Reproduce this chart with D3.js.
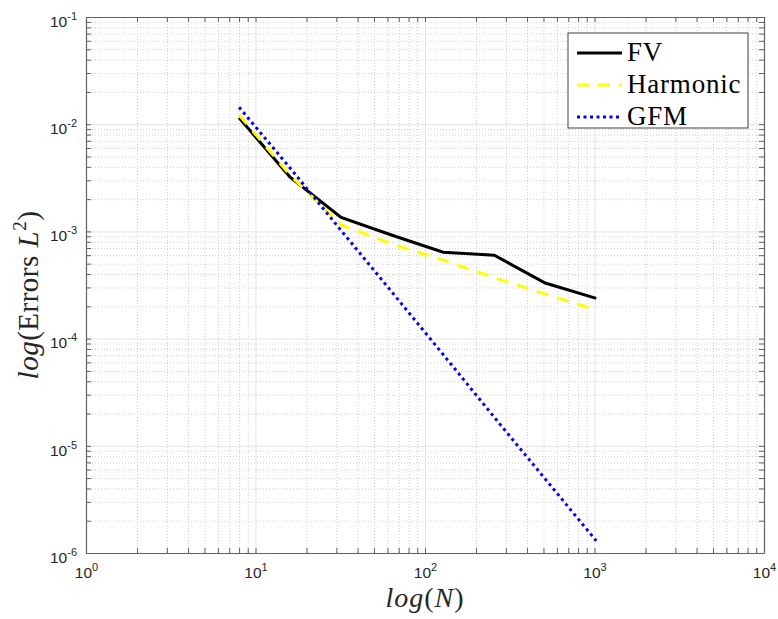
<!DOCTYPE html>
<html>
<head>
<meta charset="utf-8">
<script src="https://cdn.jsdelivr.net/npm/d3@7"></script>
<style>
  body { margin: 0; background: #fff; }
  .tick text { font-family: "Liberation Sans", Arial, sans-serif; fill: #262626; }
</style>
</head>
<body>
<svg id="chart" width="778" height="619"></svg>
<script>
// mesh sizes
const N = [8, 16, 32, 64, 128, 256, 512, 1024];
// L2 errors
const fvErr = [1.15e-2, 3.2e-3, 1.35e-3, 9.2e-4, 6.4e-4, 6.0e-4, 3.3e-4, 2.37e-4];
const harmonicErr = [1.22e-2, 3.35e-3, 1.15e-3, 7.6e-4, 5.4e-4, 3.7e-4, 2.6e-4, 1.85e-4];
const gfmErr = [1.44e-2, 3.9e-3, 1.02e-3, 2.7e-4, 7.1e-5, 1.85e-5, 4.9e-6, 1.3e-6];

const xDomain = [1, 1e4];
const yDomain = [1e-6, 1e-1];
const seriesNames = ["FV", "Harmonic", "GFM"];

let margin = {top: 17, right: 14, bottom: 66, left: 86},
    width = 778 - margin.left - margin.right,
    height = 619 - margin.top - margin.bottom;

let svg = d3.select("#chart");
let g = svg.append("g").attr("transform", "translate(" + margin.left + "," + margin.top + ")");

let x = d3.scaleLog().domain(xDomain).range([0, width]);
let y = d3.scaleLog().domain(yDomain).range([height, 0]);

// all decade + minor tick values for a log domain
function logTicks(dom) {
    let out = [];
    let lo = Math.round(Math.log10(dom[0])), hi = Math.round(Math.log10(dom[1]));
    for (let e = lo; e <= hi; e++) {
        for (let m = 1; m <= 9; m++) {
            let v = m * Math.pow(10, e);
            if (e === hi && m > 1) break;
            out.push(v);
        }
    }
    return out;
}
let isMajor = v => Math.abs(Math.log10(v) - Math.round(Math.log10(v))) < 1e-9;
let xTicks = logTicks(xDomain), yTicks = logTicks(yDomain);

// minor grid (dotted)
g.append("g")
    .attr("transform", "translate(0," + height + ")")
    .call(d3.axisBottom(x).tickValues(xTicks.filter(v => !isMajor(v))).tickSize(-height).tickFormat(""))
    .call(s => s.select(".domain").remove())
    .selectAll("line").attr("stroke", "#cfcfcf").attr("stroke-dasharray", "1,2");
g.append("g")
    .call(d3.axisLeft(y).tickValues(yTicks.filter(v => !isMajor(v))).tickSize(-width).tickFormat(""))
    .call(s => s.select(".domain").remove())
    .selectAll("line").attr("stroke", "#cfcfcf").attr("stroke-dasharray", "1,2");

// major grid (solid)
g.append("g")
    .attr("transform", "translate(0," + height + ")")
    .call(d3.axisBottom(x).tickValues(xTicks.filter(isMajor)).tickSize(-height).tickFormat(""))
    .call(s => s.select(".domain").remove())
    .selectAll("line").attr("stroke", "#e3e3e3");
g.append("g")
    .call(d3.axisLeft(y).tickValues(yTicks.filter(isMajor)).tickSize(-width).tickFormat(""))
    .call(s => s.select(".domain").remove())
    .selectAll("line").attr("stroke", "#e3e3e3");

// lines
let line = d3.line().x(d => x(d[0])).y(d => y(d[1]));
let series = [
    {name: seriesNames[0], vals: fvErr, color: "#000000", dash: null, w: 3},
    {name: seriesNames[1], vals: harmonicErr, color: "#ffff00", dash: "12,9", w: 3},
    {name: seriesNames[2], vals: gfmErr, color: "#0000ff", dash: "3,3.5", w: 3}
];
g.selectAll(".series")
    .data(series)
    .enter().append("path")
    .attr("class", "series")
    .attr("d", s => line(N.map((n, i) => [n, s.vals[i]])))
    .attr("fill", "none")
    .attr("stroke", s => s.color)
    .attr("stroke-width", s => s.w)
    .attr("stroke-dasharray", s => s.dash);

// axes with inward ticks, on all four sides
let axisColor = "#606060";
function styleAxis(s) {
    s.select(".domain").attr("stroke", axisColor).attr("stroke-width", 1.2);
    s.selectAll(".tick line").attr("stroke", axisColor);
}
function superscript(textSel) {
    textSel.each(function(v) {
        let t = d3.select(this);
        t.text("");
        if (!isMajor(v)) return;
        let e = Math.round(Math.log10(v));
        t.attr("font-size", 15.5);
        t.append("tspan").text("10");
        t.append("tspan").attr("font-size", 11).attr("dy", -7).text(e);
    });
}

let xAxisB = g.append("g")
    .attr("transform", "translate(0," + height + ")")
    .call(d3.axisBottom(x).tickValues(xTicks).tickSizeInner(-5).tickSizeOuter(0).tickPadding(13))
    .call(styleAxis);
xAxisB.selectAll(".tick text").call(superscript).attr("dy", "0.8em").attr("text-anchor", "middle");

let yAxisL = g.append("g")
    .call(d3.axisLeft(y).tickValues(yTicks).tickSizeInner(-5).tickSizeOuter(0).tickPadding(9))
    .call(styleAxis);
yAxisL.selectAll(".tick text").call(superscript).attr("dy", "0.6em");

g.append("g")
    .call(d3.axisTop(x).tickValues(xTicks).tickSizeInner(-5).tickSizeOuter(0).tickFormat(""))
    .call(styleAxis);
g.append("g")
    .attr("transform", "translate(" + width + ",0)")
    .call(d3.axisRight(y).tickValues(yTicks).tickSizeInner(-5).tickSizeOuter(0).tickFormat(""))
    .call(styleAxis);

// axis labels
let serif = "'Liberation Serif', 'Times New Roman', serif";
let xl = svg.append("text")
    .attr("x", margin.left + width / 2)
    .attr("y", 607)
    .attr("text-anchor", "middle")
    .attr("font-family", serif)
    .attr("font-size", 28)
    .attr("letter-spacing", 1)
    .attr("fill", "#262626");
xl.append("tspan").attr("font-style", "italic").text("log");
xl.append("tspan").text("(");
xl.append("tspan").attr("font-style", "italic").text("N");
xl.append("tspan").text(")");

let yl = svg.append("text")
    .attr("transform", "translate(38," + (margin.top + height / 2 + 10) + ") rotate(-90)")
    .attr("text-anchor", "middle")
    .attr("font-family", serif)
    .attr("font-size", 29)
    .attr("letter-spacing", 0.5)
    .attr("fill", "#262626");
yl.append("tspan").attr("font-style", "italic").text("log");
yl.append("tspan").text("(Errors ");
yl.append("tspan").attr("font-style", "italic").text("L");
yl.append("tspan").attr("font-size", 19).attr("dy", -12).text("2");
yl.append("tspan").attr("dy", 12).text(")");

// legend
let lg = svg.append("g").attr("transform", "translate(568,33)");
lg.append("rect")
    .attr("width", 180).attr("height", 95)
    .attr("fill", "#fff").attr("stroke", "#404040").attr("stroke-width", 1);
let rows = lg.selectAll(".row").data(series).enter().append("g")
    .attr("class", "row")
    .attr("transform", (d, i) => "translate(0," + (20 + i * 32) + ")");
rows.append("line")
    .attr("x1", 9).attr("x2", 54)
    .attr("stroke", d => d.color)
    .attr("stroke-width", d => d.w)
    .attr("stroke-dasharray", d => d.dash);
rows.append("text")
    .attr("x", 59).attr("y", 8)
    .attr("font-family", serif)
    .attr("font-size", 27)
    .attr("letter-spacing", 0.8)
    .attr("fill", "#000")
    .text(d => d.name);
</script>
</body>
</html>
